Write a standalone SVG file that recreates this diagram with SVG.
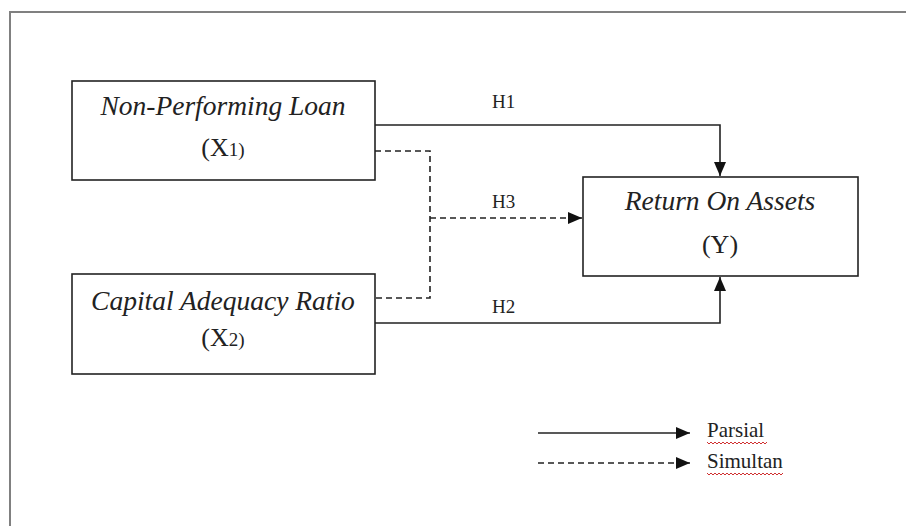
<svg xmlns="http://www.w3.org/2000/svg" width="906" height="526" viewBox="0 0 906 526">
<style>
.box{fill:#fff;stroke:#222;stroke-width:1.6}
.t{font-family:"Liberation Serif","Times New Roman",serif;fill:#222}
.it{font-style:italic;font-size:27.5px}
.lab{font-size:19px}
.leg{font-size:21px}
.ln{fill:none;stroke:#222;stroke-width:1.6}
.dash{stroke-dasharray:6 4}
.sq{fill:none;stroke:#d03030;stroke-width:1}
</style>
<defs>
<marker id="ahl" viewBox="0 0 14 12" refX="14" refY="6" markerWidth="14" markerHeight="12" markerUnits="userSpaceOnUse" orient="auto">
<path d="M0,0 L14,6 L0,12 Z" fill="#111"/>
</marker>
</defs>
<rect x="0" y="0" width="906" height="526" fill="#fff"/>
<path d="M10,526 V12 H906" fill="none" stroke="#808080" stroke-width="2"/>

<g id="connectors">
<path class="ln" d="M375,125 H720 V176" marker-end="url(#ahl)"/>
<path class="ln" d="M375,323 H720 V277" marker-end="url(#ahl)"/>
<path class="ln dash" d="M375,151 H430 V298 H375"/>
<path class="ln dash" d="M430,218 H582" marker-end="url(#ahl)"/>
<text class="t lab" x="492" y="108">H1</text>
<text class="t lab" x="492" y="208">H3</text>
<text class="t lab" x="492" y="313">H2</text>
</g>

<g id="x1">
<rect class="box" x="72" y="81" width="303" height="99"/>
<text class="t it" x="223" y="115" text-anchor="middle">Non-Performing Loan</text>
<text class="t" x="223" y="156" text-anchor="middle" font-size="26">(X<tspan font-size="19">1)</tspan></text>
</g>

<g id="x2">
<rect class="box" x="72" y="274" width="303" height="100"/>
<text class="t it" x="223" y="310" text-anchor="middle">Capital Adequacy Ratio</text>
<text class="t" x="223" y="346" text-anchor="middle" font-size="26">(X<tspan font-size="19">2)</tspan></text>
</g>

<g id="y">
<rect class="box" x="583" y="177" width="275" height="99"/>
<text class="t it" x="720" y="210" text-anchor="middle">Return On Assets</text>
<text class="t" x="720" y="253" text-anchor="middle" font-size="26">(Y)</text>
</g>

<g id="legend">
<path class="ln" d="M538,433 H690" marker-end="url(#ahl)"/>
<path class="ln dash" d="M538,463 H690" marker-end="url(#ahl)"/>
<text class="t leg" x="707" y="437">Parsial</text>
<text class="t leg" x="707" y="468">Simultan</text>
<path class="sq" d="M707,442 l2,2 l2,-2 l2,2 l2,-2 l2,2 l2,-2 l2,2 l2,-2 l2,2 l2,-2 l2,2 l2,-2 l2,2 l2,-2 l2,2 l2,-2 l2,2 l2,-2 l2,2 l2,-2 l2,2 l2,-2 l2,2 l2,-2 l2,2 l2,-2 l2,2 l2,-2 l2,2 l2,-2"/>
<path class="sq" d="M707,473 l2,2 l2,-2 l2,2 l2,-2 l2,2 l2,-2 l2,2 l2,-2 l2,2 l2,-2 l2,2 l2,-2 l2,2 l2,-2 l2,2 l2,-2 l2,2 l2,-2 l2,2 l2,-2 l2,2 l2,-2 l2,2 l2,-2 l2,2 l2,-2 l2,2 l2,-2 l2,2 l2,-2 l2,2 l2,-2 l2,2 l2,-2 l2,2 l2,-2 l2,2 l2,-2"/>
</g>
</svg>
